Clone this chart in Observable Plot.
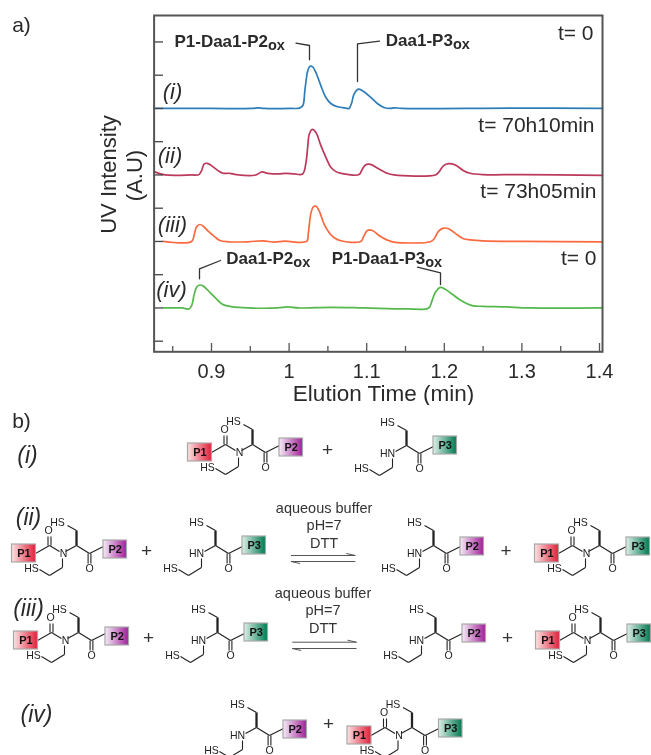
<!DOCTYPE html>
<html>
<head>
<meta charset="utf-8">
<script src="https://cdn.jsdelivr.net/npm/d3@7"></script>
<script src="https://cdn.jsdelivr.net/npm/@observablehq/plot@0.6"></script>
<style>
html,body{margin:0;padding:0;background:#fff}
svg{display:block;filter:blur(0.45px)}
</style>
</head>
<body>
<div id="a"></div>
<div id="b"></div>
<script>
// ---------- chromatogram values (elution time in min, signal in A.U. above each trace's baseline)
const timeI = [0.826,0.90,0.952,0.96,0.968,1.0026,1.0132,1.0176,1.0205,1.024,1.0269,1.0304,1.0346,1.041,1.0474,1.0538,1.0624,1.0731,1.0773,1.0808,1.0837,1.0894,1.0945,1.103,1.1137,1.1222,1.1308,1.1355,1.145,1.29,1.404];
const signalI = [0,0,0,0.02,0,0,0.01,0.08,0.58,1.13,1.27,1.25,1.08,0.68,0.33,0.15,0.05,0.01,0,0.18,0.43,0.58,0.53,0.38,0.15,0.03,0,0.02,0,0.01,0];
const timeII = [0.826,0.84,0.8744,0.8838,0.8872,0.8906,0.8944,0.90,0.9085,0.915,0.9235,0.932,0.9556,0.9598,0.965,0.9727,0.9855,0.9962,1.0068,1.0175,1.0218,1.0239,1.0261,1.0299,1.0346,1.041,1.0474,1.0538,1.0603,1.0688,1.0902,1.0944,1.0987,1.1051,1.1137,1.1265,1.135,1.1885,1.1927,1.1991,1.2056,1.2141,1.2248,1.2333,1.25,1.30,1.404];
const signalII = [0.1,0,0,0.01,0.13,0.33,0.35,0.28,0.13,0.05,0.05,0.01,-0.01,0.03,0.09,0.05,0.03,0.05,0.03,0.03,0.38,0.83,1.23,1.37,1.28,0.88,0.53,0.23,0.1,0.04,0.01,0.18,0.31,0.32,0.21,0.05,0,0,0.08,0.28,0.34,0.3,0.13,0.05,0.01,0.01,-0.01];
const timeIII = [0.838,0.8744,0.8778,0.8808,0.885,0.8893,0.8957,0.9043,0.9107,0.9214,0.947,0.9662,0.9812,0.994,1.0226,1.0248,1.0282,1.0312,1.0346,1.0389,1.0453,1.0517,1.0581,1.0667,1.0923,1.0966,1.1009,1.1073,1.1158,1.1265,1.135,1.1821,1.1863,1.1927,1.1991,1.2056,1.2162,1.2248,1.2333,1.25,1.30,1.404];
const signalIII = [0,0,0.21,0.44,0.51,0.46,0.31,0.14,0.03,-0.01,-0.01,0.02,-0.02,0.01,0,0.26,0.86,1.04,1.06,0.91,0.51,0.26,0.11,0.02,0,0.18,0.33,0.33,0.18,0.04,-0.02,-0.01,0.06,0.31,0.4,0.38,0.21,0.08,0.05,0.02,0,-0.01];
const timeIV = [0.838,0.8615,0.8709,0.8744,0.8778,0.8808,0.885,0.8893,0.8979,0.9064,0.915,0.9256,0.947,0.985,0.9983,1.012,1.0539,1.0966,1.1521,1.1799,1.1842,1.1885,1.1949,1.2013,1.2098,1.2205,1.236,1.25,1.28,1.31,1.404];
const signalIV = [0,0,-0.03,0.07,0.42,0.62,0.69,0.66,0.47,0.27,0.1,0.04,0,0,0.03,0,0.02,0,-0.03,0,0.22,0.47,0.62,0.56,0.42,0.24,0.07,0.05,0.03,0,0];
const baselines = [7,5,3,1];
const traceColors = ["#2e7db8","#bb3a5b","#fb6a3e","#55b84b"];
const majorTicks = [0.9,1,1.1,1.2,1.3,1.4];
const minorTicks = [0.85,0.95,1.05,1.15,1.25,1.35];
const intensityTicks = [0,1,2,3,4,5,6,7,8,9];

// Panel-a annotations are placed in page pixels, converted to data units
const tx = px => 0.9 + (px - 211) / 776;
const ty = py => (340.7 - py) / 33.25;
const toTable = (t, s, base) => t.map((d, i) => ({t: d, v: base + s[i]}));
const traces = [[timeI,signalI],[timeII,signalII],[timeIII,signalIII],[timeIV,signalIV]]
  .map(([t,s],i) => toTable(t,s,baselines[i]));

const timeLabels = [
  {text:"t= 0",px:593,py:33},{text:"t= 70h10min",px:594,py:125},
  {text:"t= 73h05min",px:596,py:191},{text:"t= 0",px:596,py:258}];
const romanA = [
  {text:"(i)",px:172,py:91},{text:"(ii)",px:169.5,py:155},
  {text:"(iii)",px:172,py:224},{text:"(iv)",px:171,py:289}];
const peakNames = [
  {text:"P1-Daa1-P2",px:267.5,py:41},{text:"Daa1-P3",px:452.4,py:40},
  {text:"Daa1-P2",px:292.8,py:258},{text:"P1-Daa1-P3",px:424.7,py:258}];
const leaders = [
  [[295.5,42.7],[309,45],[309,59.3]],
  [[379,40.7],[357,43.3],[357,81]],
  [[220,260],[199,268.3],[199,278.3]],
  [[417,266.7],[440,272.3],[440,284]]];
const leaderRows = leaders.flatMap((l,i)=>l.map(([x,y])=>({i,x:tx(x),y:ty(y)})));
const pxText = (rows, opts) => Plot.text(rows,{x:d=>tx(d.px),y:d=>ty(d.py),text:"text",...opts});

const ink = "#2a2a2a";
const chart = Plot.plot({
  width:651,height:405,
  marginLeft:153.6,marginRight:49,marginTop:15,marginBottom:53.7,
  style:{fontFamily:"'Liberation Sans',Arial,sans-serif",background:"#fff",color:ink},
  x:{domain:[tx(153.6),tx(602)]},
  y:{domain:[ty(351.3),ty(15)]},
  marks:[
    Plot.axisX({ticks:majorTicks,tickSize:0,tickPadding:12,fontSize:20,label:null,tickFormat:d=>String(d)}),
    Plot.axisY({ticks:[],label:null,tickSize:0}),
    ...traces.map((rows,i)=>Plot.line(rows,{x:"t",y:"v",stroke:traceColors[i],strokeWidth:1.7,curve:"catmull-rom"})),
    Plot.ruleX(majorTicks,{y1:ty(351.3),y2:ty(343),stroke:"#555",strokeWidth:1.3}),
    Plot.ruleX(minorTicks,{y1:ty(351.3),y2:ty(346),stroke:"#555",strokeWidth:1.3}),
    Plot.ruleY(intensityTicks,{x1:tx(153.6),x2:tx(163),stroke:"#444",strokeWidth:1.3}),
    Plot.frame({stroke:"#555",strokeWidth:2}),
    Plot.line(leaderRows,{x:"x",y:"y",z:"i",stroke:"#333",strokeWidth:1.3}),
    pxText(timeLabels,{textAnchor:"end",fontSize:21,fill:ink}),
    pxText(romanA,{fontSize:22,fontStyle:"italic",fill:ink}),
    pxText(peakNames,{textAnchor:"end",fontSize:17,fontWeight:"bold",fill:ink}),
    pxText(peakNames.map(d=>({text:"ox",px:d.px,py:d.py+4})),{textAnchor:"start",fontSize:14.5,fontWeight:"bold",fill:ink}),
    pxText([{text:"a)",px:21,py:25}],{fontSize:21,fill:ink}),
    pxText([{text:"Elution Time (min)",px:383,py:393}],{fontSize:22.5,fill:ink}),
    pxText([{text:"UV Intensity",px:108,py:174},{text:"(A.U)",px:134,py:175}],{fontSize:22,rotate:-90,fill:ink})
  ]
});
document.getElementById("a").append(chart);

// ---------- panel b: reaction schemes (diagram units = page pixels)
const topY = 405;
const skeletonShared = [
  [3,-2,14,-8,1.1],[14,-8,14,-23,2.3],[14,-23,5,-28,1.1],[14,-8,27,0,1.1],
  [25.6,0,25.6,10,1.1],[28.4,0,28.4,10,1.1],[27,0,41,-7,1.1],
  [0,5,0,14,1.1],[0,14,-13,22,1.1],[-13,22,-23,16,1.1]];
const skeletonAcyl = [
  [-27,0,-13,-8,1.1],[-13,-8,-3,-2,1.1],[-14.5,-8,-14.5,-17,1.1],[-11.5,-8,-11.5,-17,1.1]];
const atomsShared = [
  {text:"HS",dx:-5,dy:-31},{text:"O",dx:27,dy:15.5},{text:"HS",dx:-31,dy:15.5}];
const atomsAcyl = [{text:"N",dx:1,dy:0},{text:"O",dx:-14,dy:-23}];
const atomsAmine = [{text:"HN",dx:-5,dy:0}];
// [nitrogen x, nitrogen y, kind, C-terminal peptide, peptide-box dy]
const molecules = [
  [238,452,"acyl","P2",-14],[392,453,"amine","P3",-17],
  [62,553,"acyl","P2",-13],[201,553,"amine","P3",-17],[419,553,"amine","P2",-16],[585,553,"acyl","P3",-16],
  [64,640,"acyl","P2",-13],[203,640,"amine","P3",-17],[421,640,"amine","P2",-16],[586,640,"acyl","P3",-16],
  [242,735,"amine","P2",-15],[397.5,735,"acyl","P3",-16]];
const plusSigns = [[327,449],[146,550],[505.5,550],[148,637],[507,637],[328,723]];
const romanB = [
  {text:"(i)",x:27,y:455},{text:"(ii)",x:28,y:517},{text:"(iii)",x:28,y:608},{text:"(iv)",x:36,y:714}];
const conditions = [
  {text:"aqueous buffer",x:323.6,y:507.5},{text:"pH=7",x:323.6,y:525},{text:"DTT",x:323.6,y:542.5},
  {text:"aqueous buffer",x:322.5,y:593},{text:"pH=7",x:322.5,y:610},{text:"DTT",x:322.5,y:628}];
const equilibria = [[290.5,354.8,555,561],[291.7,356,641.7,648]];

const bonds = molecules.flatMap(([nx,ny,kind])=>
  [...skeletonShared,...(kind==="acyl"?skeletonAcyl:[])].map(([a,b,c,d,w])=>({x1:nx+a,y1:ny+b,x2:nx+c,y2:ny+d,w})));
const atoms = molecules.flatMap(([nx,ny,kind])=>
  [...atomsShared,...(kind==="acyl"?atomsAcyl:atomsAmine)].map(a=>({text:a.text,x:nx+a.dx,y:ny+a.dy})));
const boxes = molecules.flatMap(([nx,ny,kind,pep,dy])=>{
  const list=[{name:pep,x1:nx+41,x2:nx+64.5,y1:ny+dy,y2:ny+dy+18}];
  if(kind==="acyl") list.push({name:"P1",x1:nx-50.5,x2:nx-26.5,y1:ny-9,y2:ny+9});
  return list;
});
const arrowLines = equilibria.flatMap(([a,b,y1,y2])=>[
  {x1:a,x2:b,y1:y1,y2:y1},{x1:a,x2:b,y1:y2,y2:y2},
  {x1:b-9,x2:b,y1:y1-2,y2:y1},{x1:a,x2:a+9,y1:y2,y2:y2+2}]);

const gradientDefs = () => {
  const defs = d3.create("svg:defs");
  [["gP1","#fbe3e3","#e21f3a"],["gP2","#f6ecf6","#a1209a"],["gP3","#dcefe6","#007a52"]].forEach(([id,a,b])=>{
    const g = defs.append("linearGradient").attr("id",id);
    g.append("stop").attr("offset","0%").attr("stop-color",a);
    g.append("stop").attr("offset","100%").attr("stop-color",b);
  });
  return defs.node();
};
const boxMark = name => Plot.rect(boxes.filter(d=>d.name===name),
  {x1:"x1",x2:"x2",y1:"y1",y2:"y2",fill:`url(#g${name})`,stroke:"#a8a8a8",strokeWidth:1.2});

const scheme = Plot.plot({
  width:651,height:350,margin:0,
  style:{fontFamily:"'Liberation Sans',Arial,sans-serif",background:"#fff",color:ink},
  x:{domain:[0,651],axis:null},
  y:{domain:[topY,755],range:[0,350],axis:null},
  marks:[
    gradientDefs,
    Plot.link(bonds,{x1:"x1",y1:"y1",x2:"x2",y2:"y2",stroke:"#222",strokeWidth:"w"}),
    boxMark("P1"),boxMark("P2"),boxMark("P3"),
    Plot.text(boxes,{x:d=>(d.x1+d.x2)/2,y:d=>(d.y1+d.y2)/2,text:"name",fontSize:11,fontWeight:"bold",fill:"#111"}),
    Plot.text(atoms,{x:"x",y:"y",text:"text",fontSize:10.5,fill:"#222"}),
    Plot.text(plusSigns,{x:d=>d[0],y:d=>d[1],text:()=>"+",fontSize:19,fill:"#333"}),
    Plot.text(romanB,{x:"x",y:"y",text:"text",fontSize:23,fontStyle:"italic",fill:ink}),
    Plot.text(conditions,{x:"x",y:"y",text:"text",fontSize:14.5,fill:"#333"}),
    Plot.link(arrowLines,{x1:"x1",y1:"y1",x2:"x2",y2:"y2",stroke:"#555",strokeWidth:1}),
    Plot.text([{text:"b)",x:21,y:421}],{x:"x",y:"y",text:"text",fontSize:21,fill:ink})
  ]
});
document.getElementById("b").append(scheme);
</script>
</body>
</html>
